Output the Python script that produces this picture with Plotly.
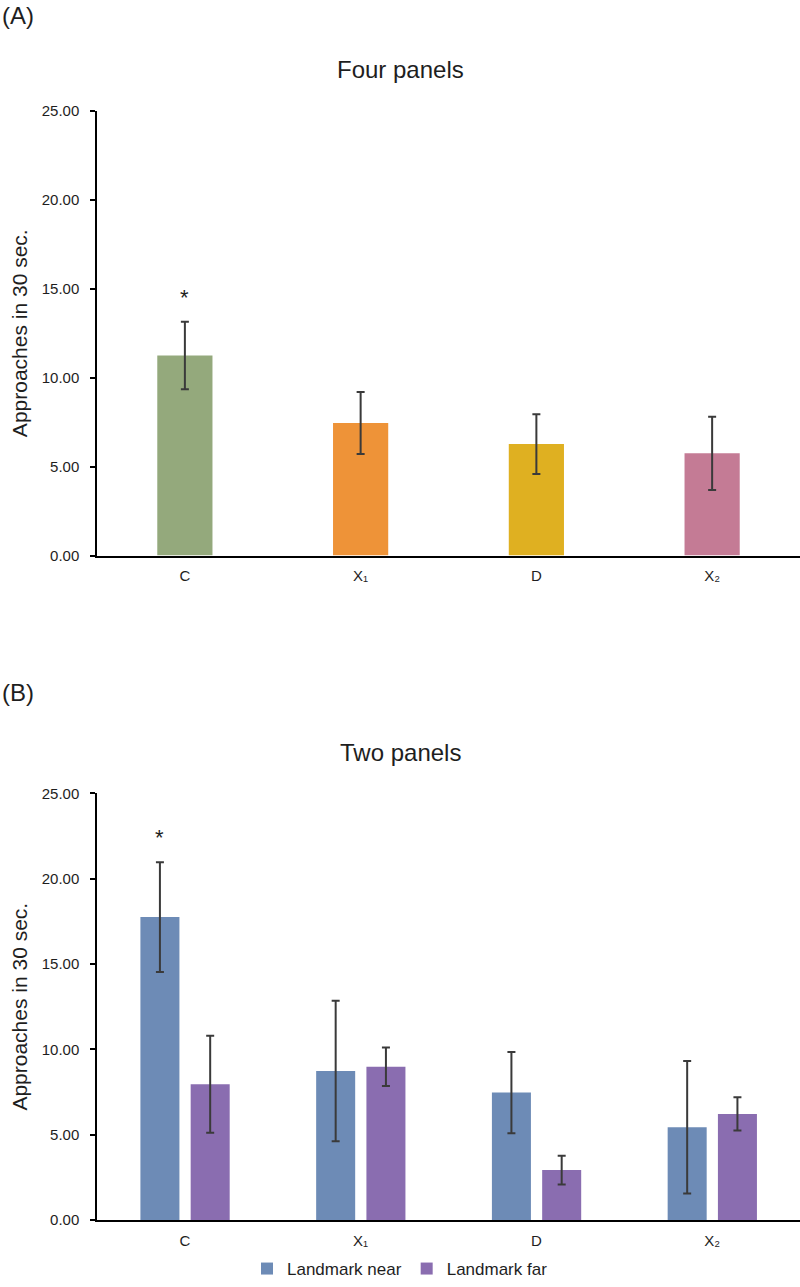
import plotly.graph_objects as go
from plotly.subplots import make_subplots

# ---- data ----
categories = ["C", "X\u2081", "D", "X\u2082"]

four_values = [11.25, 7.45, 6.27, 5.75]
four_errors = [1.90, 1.74, 1.68, 2.06]
four_colors = ["#94A97C", "#EE9338", "#DFB021", "#C47B95"]

near_values = [17.75, 8.73, 7.47, 5.44]
near_errors = [3.22, 4.12, 2.38, 3.88]
far_values = [7.96, 8.98, 2.93, 6.22]
far_errors = [2.84, 1.13, 0.84, 0.97]

series_names = ["Landmark near", "Landmark far"]
series_colors = ["#6D8BB6", "#8A6DB0"]

y_ticks = [0, 5, 10, 15, 20, 25]
y_tick_labels = ["0.00", "5.00", "10.00", "15.00", "20.00", "25.00"]

star_top_y = 14.5
star_bottom_y = 22.4

FONT = "Liberation Sans, Arial, sans-serif"
TXT = "#1e1e1e"
ERR = "#3a3a3a"

fig = make_subplots(rows=2, cols=1)

fig.add_trace(go.Bar(
    x=categories, y=four_values, width=0.314,
    marker=dict(color=four_colors, line=dict(width=0)),
    error_y=dict(type="data", array=four_errors, color=ERR, thickness=2, width=4),
    showlegend=False,
), row=1, col=1)

fig.add_trace(go.Bar(
    x=categories, y=near_values, name=series_names[0], width=0.222, offset=-0.253,
    marker=dict(color=series_colors[0], line=dict(width=0)),
    error_y=dict(type="data", array=near_errors, color=ERR, thickness=2, width=4),
), row=2, col=1)
fig.add_trace(go.Bar(
    x=categories, y=far_values, name=series_names[1], width=0.222, offset=0.033,
    marker=dict(color=series_colors[1], line=dict(width=0)),
    error_y=dict(type="data", array=far_errors, color=ERR, thickness=2, width=4),
), row=2, col=1)

xcommon = dict(
    showline=True, linecolor="#000", linewidth=1.5, ticks="", showgrid=False,
    zeroline=False, automargin=False, tickfont=dict(family=FONT, size=15, color=TXT),
    ticklabelstandoff=6,
)
ycommon = dict(
    range=[0, 25], tickvals=y_ticks, ticktext=y_tick_labels,
    showline=True, linecolor="#000", linewidth=1.5, ticks="outside", ticklen=5,
    tickwidth=1.5, tickcolor="#000", showgrid=False, zeroline=False, automargin=False,
    tickfont=dict(family=FONT, size=15, color=TXT), ticklabelstandoff=8,
    title=dict(text="Approaches in 30 sec.", font=dict(family=FONT, size=21, color=TXT), standoff=8),
)

fig.update_xaxes(domain=[97 / 800, 1.0], **xcommon)
fig.update_yaxes(**ycommon)
fig.update_yaxes(domain=[1 - 556 / 1287, 1 - 111 / 1287], row=1, col=1)
fig.update_yaxes(domain=[1 - 1221 / 1287, 1 - 794 / 1287], row=2, col=1)

annotations = [
    dict(text="(A)", x=0, y=1.0, xref="paper", yref="paper", xanchor="left",
         yanchor="top", showarrow=False, font=dict(family=FONT, size=24, color=TXT)),
    dict(text="(B)", x=0, y=1 - 693 / 1287, xref="paper", yref="paper", xanchor="left",
         yanchor="middle", showarrow=False, font=dict(family=FONT, size=24, color=TXT)),
    dict(text="Four panels", x=0.5, y=1 - 70 / 1287, xref="paper", yref="paper",
         xanchor="center", yanchor="middle", showarrow=False,
         font=dict(family=FONT, size=24, color=TXT)),
    dict(text="Two panels", x=0.5, y=1 - 753 / 1287, xref="paper", yref="paper",
         xanchor="center", yanchor="middle", showarrow=False,
         font=dict(family=FONT, size=24, color=TXT)),
    dict(text="*", x=categories[0], y=star_top_y, xref="x", yref="y",
         showarrow=False, font=dict(family=FONT, size=22, color=TXT)),
    dict(text="*", x=-0.142, y=star_bottom_y, xref="x2", yref="y2",
         showarrow=False, font=dict(family=FONT, size=22, color=TXT)),
]

fig.update_layout(
    width=800, height=1287,
    margin=dict(l=0, r=0, t=0, b=0),
    paper_bgcolor="white", plot_bgcolor="white",
    barmode="group",
    annotations=annotations,
    showlegend=True,
    legend=dict(orientation="h", x=0.5, xanchor="center", y=1 - 1270 / 1287,
                yanchor="middle", font=dict(family=FONT, size=17, color=TXT),
                itemwidth=30, bgcolor="rgba(0,0,0,0)"),
    font=dict(family=FONT, color=TXT),
)

fig.write_html("out.html", config={"displayModeBar": False},
               post_script="document.body.style.margin='0';")
